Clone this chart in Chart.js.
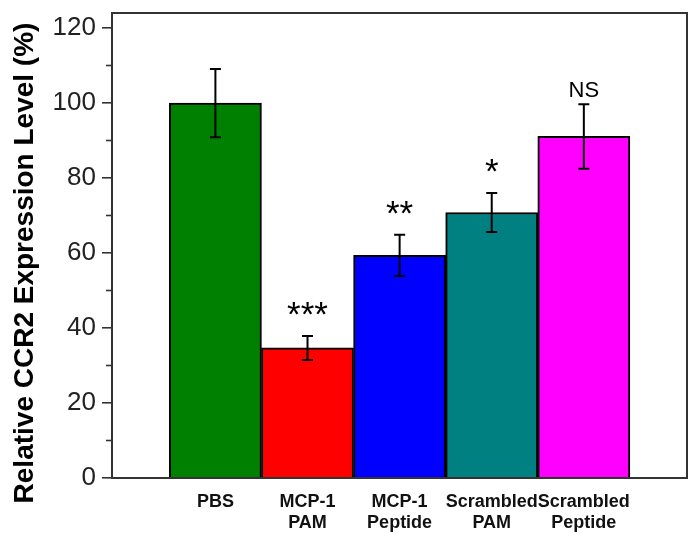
<!DOCTYPE html>
<html>
<head>
<meta charset="utf-8">
<script src="https://cdn.jsdelivr.net/npm/chart.js@4/dist/chart.umd.min.js"></script>
<style>
  html, body { margin: 0; padding: 0; background: #ffffff; }
  #wrap { width: 700px; height: 546px; position: relative; }
</style>
</head>
<body>
<div id="wrap"><canvas id="c" width="700" height="546"></canvas></div>
<script>
// ---- data ----
const categories = [['PBS'], ['MCP-1', 'PAM'], ['MCP-1', 'Peptide'], ['Scrambled', 'PAM'], ['Scrambled', 'Peptide']];
const positions = [1, 2, 3, 4, 5];
const means = [100, 34.7, 59.4, 70.8, 91.1];
const errors = [9.1, 3.2, 5.5, 5.2, 8.6];
const significance = ['', '***', '**', '*', 'NS'];
const barColors = ['#008000', '#ff0000', '#0000ff', '#008080', '#ff00ff'];
const yMajorTicks = [0, 20, 40, 60, 80, 100, 120];
const yMinorTicks = [10, 30, 50, 70, 90, 110];
const yTitle = 'Relative CCR2 Expression Level (%)';

const FONT = '"Liberation Sans", Arial, Helvetica, sans-serif';

const points = positions.map((p, i) => ({ x: p, y: means[i] }));

const decorPlugin = {
  id: 'decor',
  afterDatasetsDraw(chart) {
    const ctx = chart.ctx;
    const xs = chart.scales.x, ys = chart.scales.y;
    ctx.save();
    // error bars
    ctx.strokeStyle = '#000';
    ctx.lineWidth = 2;
    positions.forEach((p, i) => {
      const px = xs.getPixelForValue(p);
      const top = ys.getPixelForValue(means[i] + errors[i]);
      const bot = ys.getPixelForValue(means[i] - errors[i]);
      ctx.beginPath();
      ctx.moveTo(px, top); ctx.lineTo(px, bot);
      ctx.moveTo(px - 5.5, top); ctx.lineTo(px + 5.5, top);
      ctx.moveTo(px - 5.5, bot); ctx.lineTo(px + 5.5, bot);
      ctx.stroke();
    });
    // significance labels
    ctx.fillStyle = '#000';
    ctx.textAlign = 'center';
    ctx.textBaseline = 'alphabetic';
    positions.forEach((p, i) => {
      const s = significance[i];
      if (!s) return;
      const px = xs.getPixelForValue(p);
      const top = ys.getPixelForValue(means[i] + errors[i]);
      if (s === 'NS') {
        ctx.font = '22px ' + FONT;
        ctx.fillText(s, px, top - 7);
      } else {
        ctx.font = '35px ' + FONT;
        ctx.fillText(s, px, top - 10);
      }
    });
    ctx.restore();
  },
  afterDraw(chart) {
    const ctx = chart.ctx;
    const a = chart.chartArea;
    const ys = chart.scales.y;
    ctx.save();
    // minor ticks
    ctx.strokeStyle = '#333';
    ctx.lineWidth = 1.6;
    yMinorTicks.forEach(v => {
      const py = ys.getPixelForValue(v);
      ctx.beginPath();
      ctx.moveTo(a.left - 6, py); ctx.lineTo(a.left, py);
      ctx.stroke();
    });
    // frame
    ctx.strokeStyle = '#333';
    ctx.lineWidth = 2;
    ctx.strokeRect(a.left, a.top, a.right - a.left, a.bottom - a.top);
    // y axis title
    ctx.fillStyle = '#000';
    ctx.font = 'bold 28px ' + FONT;
    ctx.textAlign = 'center';
    ctx.textBaseline = 'middle';
    ctx.translate(25, 263);
    ctx.rotate(-Math.PI / 2);
    ctx.fillText(yTitle, 0, 0);
    ctx.restore();
  }
};

new Chart(document.getElementById('c'), {
  type: 'bar',
  data: {
    datasets: [{
      data: points,
      backgroundColor: barColors,
      borderColor: '#000',
      borderWidth: 2,
      categoryPercentage: 1.0,
      barPercentage: 1.0
    }]
  },
  options: {
    responsive: false,
    animation: false,
    layout: { padding: { top: 13, right: 13, left: 0, bottom: 0 } },
    plugins: { legend: { display: false }, tooltip: { enabled: false } },
    scales: {
      x: {
        type: 'linear',
        offset: false,
        min: -0.1227,
        max: 6.12,
        grid: { display: false, drawTicks: false },
        border: { display: false },
        afterBuildTicks(scale) { scale.ticks = positions.map(v => ({ value: v })); },
        afterFit(scale) { scale.height = 68; scale.paddingLeft = 0; scale.paddingRight = 0; },
        ticks: {
          autoSkip: false,
          maxRotation: 0,
          padding: 13,
          color: '#111',
          font: { family: FONT, size: 18, weight: 'bold', lineHeight: 1.2 },
          callback(value) {
            const i = positions.indexOf(value);
            return i >= 0 ? categories[i] : '';
          }
        }
      },
      y: {
        min: 0,
        max: 124,
        grid: { drawOnChartArea: false, drawTicks: true, tickLength: 10, tickColor: '#333', lineWidth: 1.6 },
        border: { display: false },
        afterBuildTicks(scale) { scale.ticks = yMajorTicks.map(v => ({ value: v })); },
        afterFit(scale) { scale.width = 112; scale.paddingTop = 0; scale.paddingBottom = 0; },
        ticks: {
          padding: 6,
          color: '#222',
          font: { family: FONT, size: 26 }
        }
      }
    }
  },
  plugins: [decorPlugin]
});
</script>
</body>
</html>
